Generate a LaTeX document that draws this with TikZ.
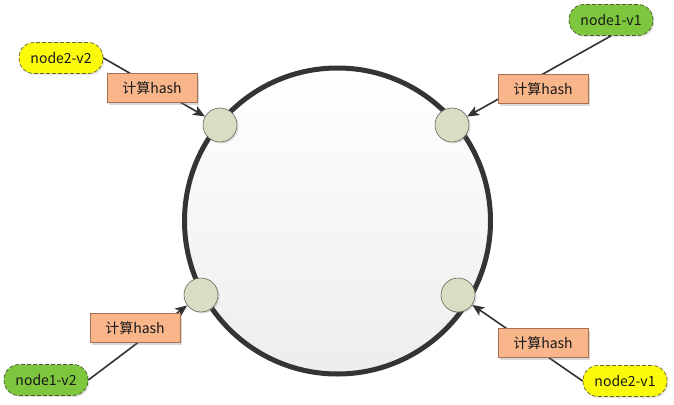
\documentclass[tikz,border=0pt]{standalone}
\usepackage{fontspec}
\setmainfont{Noto Sans CJK SC}
\usetikzlibrary{arrows.meta,shadows}
\definecolor{hashfill}{RGB}{248,182,138}
\definecolor{hashline}{RGB}{168,112,82}
\definecolor{hubfill}{RGB}{215,222,196}
\definecolor{hubline}{RGB}{98,104,84}
\definecolor{vyellow}{RGB}{250,250,10}
\definecolor{vyline}{RGB}{105,105,45}
\definecolor{vgreen}{RGB}{126,198,62}
\definecolor{vgline}{RGB}{66,96,42}
\definecolor{ringline}{RGB}{52,52,52}
\definecolor{linkline}{RGB}{50,50,50}

\begin{document}
\begin{tikzpicture}[x=1pt,y=-1pt,>=latex,
	ring/.style={circle,draw=ringline,line width=5pt,minimum size=306pt,
		top color=white,bottom color=black!7,
		drop shadow={shadow xshift=2pt,shadow yshift=-1pt,opacity=0.25}},
	hub/.style={circle,draw=hubline,line width=0.6pt,fill=hubfill,minimum size=34pt,inner sep=0pt,
		drop shadow={shadow xshift=1.5pt,shadow yshift=-1.5pt,opacity=0.25}},
	vnode/.style={rectangle,rounded corners=15pt,dash pattern=on 4pt off 2pt,line width=0.7pt,minimum width=84pt,minimum height=31pt,
		font=\fontsize{14}{16}\selectfont,text=black!90,
		drop shadow={shadow xshift=1.5pt,shadow yshift=-1.5pt,opacity=0.2}},
	hashbox/.style={rectangle,draw=hashline,line width=0.6pt,fill=hashfill,minimum width=90pt,minimum height=29pt,
		font=\fontsize{14}{16}\selectfont,text=black!90,
		drop shadow={shadow xshift=2pt,shadow yshift=-2pt,opacity=0.3}},
	link/.style={->,draw=linkline,line width=1.6pt,>={Stealth[length=12pt,width=10pt,inset=3pt]}}]
	\useasboundingbox (0,0) rectangle (674,404);

	% ring and points on it
	\node[ring] (ring) at (337.5,221) {};
	\node[hub] (h1) at (220,125) {};
	\node[hub] (h2) at (452,125) {};
	\node[hub] (h3) at (201,295) {};
	\node[hub] (h4) at (458,295) {};

	% virtual nodes
	\node[vnode,fill=vyellow,draw=vyline] (n2v2) at (61,58) {node2-v2};
	\node[vnode,fill=vgreen,draw=vgline] (n1v1) at (611,20) {node1-v1};
	\node[vnode,fill=vgreen,draw=vgline] (n1v2) at (46,380) {node1-v2};
	\node[vnode,fill=vyellow,draw=vyline] (n2v1) at (625,381) {node2-v1};

	\draw[link] (n2v2.east) -- (h1);
	\draw[link] (n1v1.south) -- (h2);
	\draw[link] (n1v2.east) -- (h3);
	\draw[link] (n2v1.west) -- (h4);

	% hash labels over the links
	\node[hashbox] (c1) at (152,88) {计算hash};
	\node[hashbox] (c2) at (543,89) {计算hash};
	\node[hashbox] (c3) at (135,328) {计算hash};
	\node[hashbox] (c4) at (543,343) {计算hash};
\end{tikzpicture}
\end{document}
